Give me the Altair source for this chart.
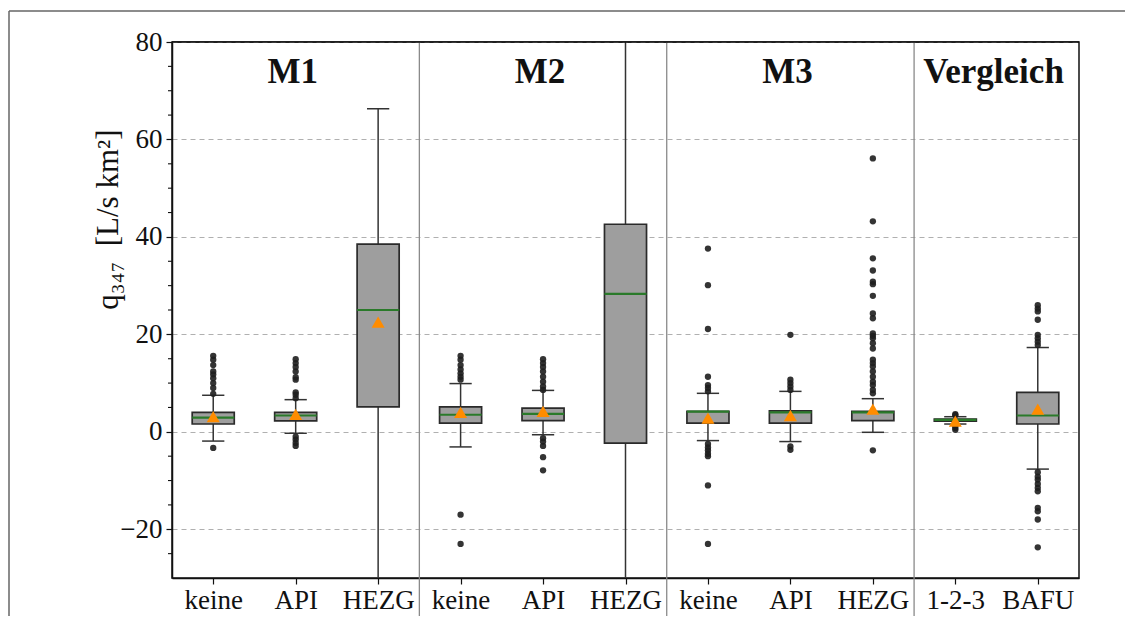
import altair as alt
import pandas as pd

SERIF = "Liberation Serif"

# ---- data ----
labels = ["keine", "API", "HEZG", "keine", "API", "HEZG", "keine", "API", "HEZG", "1-2-3", "BAFU"]
positions = [1, 2, 3, 4, 5, 6, 7, 8, 9, 10, 11]
q1 = [1.6, 2.25, 5.1, 1.8, 2.3, -2.3, 1.8, 1.8, 2.3, 2.2, 1.6]
q3 = [4.0, 4.0, 38.5, 5.1, 4.85, 42.6, 4.2, 4.3, 4.2, 2.6, 8.1]
median = [2.9, 3.35, 25.0, 3.5, 3.7, 28.3, 4.15, 4.0, 4.0, 2.45, 3.35]
mean = [3.1, 3.6, 22.5, 4.0, 4.2, None, 2.8, 3.35, 4.65, 2.2, 4.65]
whis_lo = [-1.9, -0.3, -45.0, -3.1, -0.6, -45.0, -1.8, -2.0, -0.1, 1.6, -7.65]
whis_hi = [7.5, 6.6, 66.3, 9.9, 8.5, 95.0, 7.9, 8.3, 6.8, 3.1, 17.3]

outliers = [
    [-3.3, 7.8, 9.0, 10.0, 11.0, 11.8, 12.4, 13.7, 14.8, 15.6],
    [-1.0, -1.6, -2.3, -2.9, 6.9, 7.6, 8.1, 10.7, 11.2, 12.4, 13.3, 14.1, 14.9],
    [],
    [-23.0, -17.0, 10.7, 11.3, 12.0, 12.8, 13.7, 14.8, 15.6],
    [-7.9, -5.2, -2.9, -2.0, -1.3, 8.6, 9.3, 10.3, 11.3, 12.4, 13.3, 14.1, 14.9],
    [],
    [-23.0, -11.0, -5.0, -4.5, -3.8, -3.2, -2.5, 8.3, 9.0, 9.6, 11.3, 21.1, 30.1, 37.6],
    [-3.7, -3.0, 8.6, 9.3, 10.0, 10.7, 19.9],
    [-3.8, 7.9, 8.6, 9.6, 10.3, 11.3, 12.4, 13.4, 14.1, 14.8, 17.1, 18.2, 19.2, 19.7,
     20.2, 23.3, 24.3, 27.9, 30.3, 30.8, 33.1, 35.6, 43.2, 56.1],
    [0.4, 0.8, 1.2, 3.4, 3.6],
    [-23.7, -18.0, -16.3, -15.6, -12.2, -11.5, -10.7, -9.8, -9.2, -8.3,
     17.8, 18.5, 19.2, 19.9, 23.0, 24.7, 25.3, 26.0],
]

groups = ["M1", "M2", "M3", "Vergleich"]
group_pos = [2, 5, 8, 10.5]
group_y = [71.65, 71.65, 71.65, 71.65]
separators = [3.5, 6.5, 9.5]
y_ticks = [-20, 0, 20, 40, 60, 80]
y_minor = [-25, -15, -10, -5, 5, 10, 15, 25, 30, 35, 45, 50, 55, 65, 70, 75]

# ---- tables ----
box_df = pd.DataFrame({
    "pos": positions, "label": labels, "q1": q1, "q3": q3, "median": median,
    "mean": mean, "lo": whis_lo, "hi": whis_hi,
})
out_rows = []
for p, vals in zip(positions, outliers):
    for v in vals:
        out_rows.append({"pos": p, "v": v})
out_df = pd.DataFrame(out_rows)
grp_df = pd.DataFrame({"g": groups, "pos": group_pos, "y": group_y})
sep_df = pd.DataFrame({"x": separators})
minor_df = pd.DataFrame({"y": y_minor})
one_df = pd.DataFrame({"a": [0]})

W, H = 907, 536
xscale = alt.Scale(domain=[0.5, 11.5], nice=False, zero=False)
yscale = alt.Scale(domain=[-30, 80], nice=False, zero=False)

label_expr = "[" + ",".join("'%s'" % l for l in labels) + "][round(datum.value) - 1]"
xaxis = alt.Axis(values=positions, labelExpr=label_expr, grid=False, tickSize=6,
                 tickColor="#111", tickWidth=1.2, labelFont=SERIF, labelFontSize=27,
                 labelColor="#111", labelPadding=3, domainColor="#111", domainWidth=1.5,
                 title=None)
yaxis = alt.Axis(values=y_ticks, grid=True, gridDash=[5, 4], gridColor="#b0b0b0",
                 gridWidth=1, tickSize=6, tickColor="#111", tickWidth=1.2,
                 labelFont=SERIF, labelFontSize=27, labelColor="#111", labelPadding=4,
                 domainColor="#111", domainWidth=1.5,
                 title="q₃₄₇\u2002[L/s km²]", titleFont=SERIF, titleFontSize=31,
                 titleFontWeight="normal", titleColor="#111", titleX=-64, titleY=177,
                 titleAngle=270, titleAlign="center", titleBaseline="middle")


def X(field, **kw):
    return alt.X(field, type="quantitative", scale=xscale, axis=xaxis, **kw)


def Y(field, **kw):
    return alt.Y(field, type="quantitative", scale=yscale, axis=yaxis, **kw)


base = alt.Chart(box_df).transform_calculate(
    boxL="datum.pos - 0.255", boxR="datum.pos + 0.255",
    capL="datum.pos - 0.135", capR="datum.pos + 0.135")

seps = alt.Chart(sep_df).mark_rule(color="#8a8a8a", strokeWidth=1.3).encode(
    x=X("x"), y=alt.value(0), y2=alt.value(574))

minor = alt.Chart(minor_df).mark_rule(color="#111", strokeWidth=1.1).encode(
    y=Y("y"), x=alt.value(-4), x2=alt.value(0))

wlo = base.mark_rule(color="#333333", strokeWidth=1.5, clip=True).encode(
    x=X("pos"), y=Y("lo"), y2="q1")
whi = base.mark_rule(color="#333333", strokeWidth=1.5, clip=True).encode(
    x=X("pos"), y=Y("q3"), y2="hi")
clo = base.mark_rule(color="#333333", strokeWidth=1.5, clip=True).encode(
    x=X("capL"), x2="capR", y=Y("lo"))
chi = base.mark_rule(color="#333333", strokeWidth=1.5, clip=True).encode(
    x=X("capL"), x2="capR", y=Y("hi"))
boxes = base.mark_rect(fill="#9e9e9e", stroke="#2a2a2a", strokeWidth=1.7, clip=True).encode(
    x=X("boxL"), x2="boxR", y=Y("q1"), y2="q3")
meds = base.mark_rule(color="#2a7a2a", strokeWidth=2.2).encode(
    x=X("boxL"), x2="boxR", y=Y("median"))
outs = alt.Chart(out_df).mark_circle(size=40, color="#1e1e1e", opacity=0.9).encode(
    x=X("pos"), y=Y("v"))
means = base.mark_point(shape="triangle-up", filled=True, size=170, color="#ff8c00",
                        opacity=1).encode(x=X("pos"), y=Y("mean"))
texts = alt.Chart(grp_df).mark_text(font=SERIF, fontSize=35, fontWeight="bold",
                                    baseline="alphabetic", align="center", dx=-3,
                                    color="#111").encode(
    x=X("pos"), y=Y("y"), text="g")

top_border = alt.Chart(one_df).mark_rule(color="#111", strokeWidth=1.5).encode(
    x=alt.value(0), x2=alt.value(W), y=alt.value(0))
frame_top = alt.Chart(one_df).mark_rule(color="#666666", strokeWidth=1.5).encode(
    x=alt.value(-163), x2=alt.value(953), y=alt.value(-31))
frame_left = alt.Chart(one_df).mark_rule(color="#666666", strokeWidth=1.5).encode(
    x=alt.value(-163), y=alt.value(-31), y2=alt.value(574))

chart = alt.layer(
    seps, minor, wlo, whi, clo, chi, boxes, meds, outs, means, texts,
    top_border, frame_top, frame_left
).properties(
    width=W, height=H,
    autosize=alt.AutoSizeParams(type="none"),
    padding={"left": 164, "top": 34, "right": 46, "bottom": 38},
).configure(font=SERIF).configure_view(stroke="#111", strokeWidth=1.5)

chart.save("out.html", embed_options={"renderer": "svg", "actions": False})
